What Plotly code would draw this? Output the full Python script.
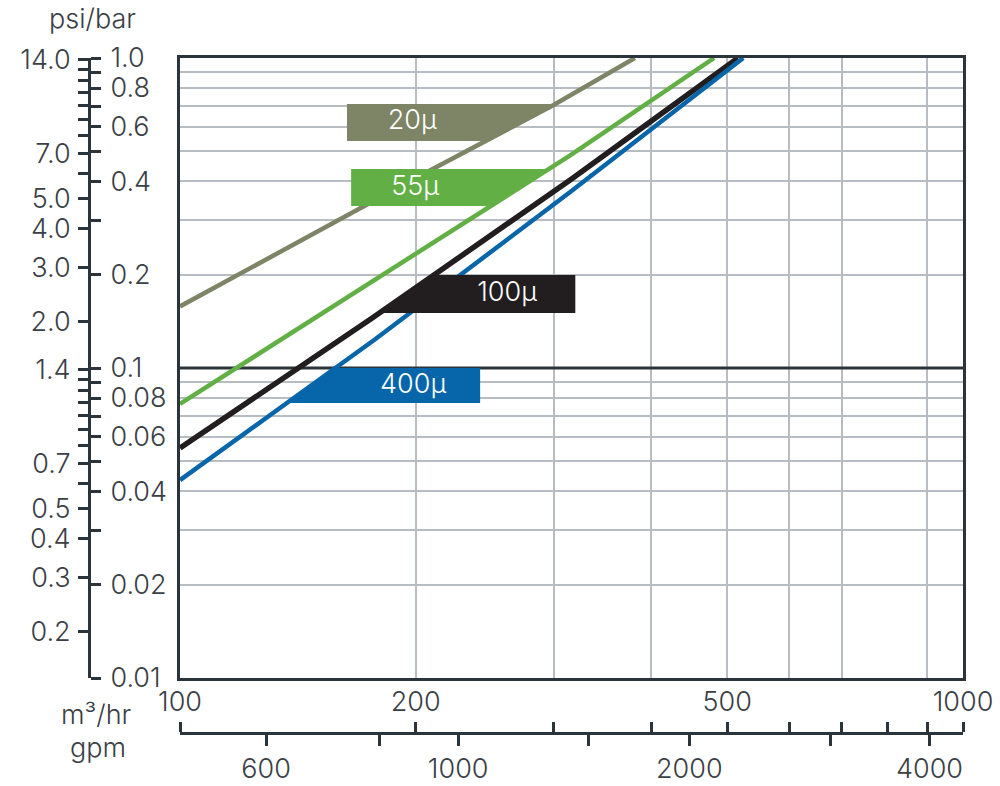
import numpy as np
import plotly.graph_objects as go

# ---------------- data ----------------
series_names = ["20μ", "55μ", "100μ", "400μ"]
series_colors = ["#7e8466", "#62b045", "#221e1f", "#0766a9"]
series_widths = [4.5, 4.5, 5.5, 4.5]

flow_20 = [100, 200, 300, 381]
bar_20 = [0.158, 0.41, 0.705, 1.0]
flow_55 = [100, 176, 315, 481]
bar_55 = [0.0766, 0.19, 0.485, 1.0]
flow_100 = [100, 176, 315, 516]
bar_100 = [0.0552, 0.145, 0.404, 1.0]
flow_400 = [100, 177, 315, 524]
bar_400 = [0.0435, 0.1231, 0.3695, 1.0]

# label boxes: (side of curve the box sits on, outer flow edge, bar bottom, bar top)
box_side = ["left", "left", "right", "right"]
box_edge_flow = [163.4, 165.4, 319.8, 241.7]
box_bar_bottom = [0.54, 0.333, 0.1504, 0.0771]
box_bar_top = [0.7105, 0.4385, 0.1995, 0.1]
label_flow = [198, 199.7, 261.7, 198.5]
label_bar = [0.622, 0.381, 0.1733, 0.0875]

# grid / ticks
grid_flow = [200, 300, 400, 500, 600, 700, 900]
grid_bar = [0.02, 0.03, 0.04, 0.05, 0.06, 0.07, 0.08, 0.09,
            0.2, 0.3, 0.4, 0.5, 0.6, 0.7, 0.8, 0.9]
ref_bar = 0.1
flow_range = [100, 1000]

m3_ticks = [100, 200, 300, 400, 500, 600, 700, 800, 900, 1000]
m3_labels = ["100", "200", "", "", "500", "", "", "", "", "1000"]

gpm_tick_m3hr = [128.8, 179.6, 226.6, 332.2, 447.2, 677, 906.2]
gpm_labels = ["600", "", "1000", "", "2000", "", "4000"]

bar_ticks = [1.0, 0.9, 0.8, 0.7, 0.6, 0.5, 0.4, 0.3, 0.2, 0.1,
             0.09, 0.08, 0.07, 0.06, 0.05, 0.04, 0.03, 0.02, 0.01]
bar_labels = ["1.0", "", "0.8", "", "0.6", "", "0.4", "", "0.2", "0.1",
              "", "0.08", "", "0.06", "", "0.04", "", "0.02", "0.01"]

psi_ticks = [14, 13, 12, 11, 10, 9, 8, 7, 6, 5, 4, 3, 2,
             1.4, 1.3, 1.2, 1.1, 1.0, 0.9, 0.8, 0.7, 0.6, 0.5, 0.4, 0.3, 0.2]
psi_labels = ["14.0", "", "", "", "", "", "", "7.0", "", "5.0", "4.0", "3.0", "2.0",
              "1.4", "", "", "", "", "", "", "0.7", "", "0.5", "0.4", "0.3", "0.2"]
PSI_PER_BAR = 14.2  # scale used by the chart's psi ruler

# ---------------- styling ----------------
FONT = "Inter"
TXT = "#3a4046"
AX = "#2c343b"
GRID = "#b7bdc2"
FS = 27
W, H = 1000, 786
px_left, px_right, px_top, px_bottom = 180, 963, 58, 678
dom_x = [px_left / W, px_right / W]
dom_y = [(H - px_bottom) / H, (H - px_top) / H]
yaxis_pos = 89 / W
xaxis_pos = (H - 733) / H

fig = go.Figure()

# dark reference line at 0.1 bar (drawn first, under the curves)
fig.add_trace(go.Scatter(x=flow_range, y=[ref_bar, ref_bar], mode="lines",
                         line=dict(color=AX, width=3), hoverinfo="skip",
                         showlegend=False))

curves = [(flow_20, bar_20), (flow_55, bar_55), (flow_100, bar_100), (flow_400, bar_400)]
for (fx, by), name, col, lw in zip(curves, series_names, series_colors, series_widths):
    fig.add_trace(go.Scatter(x=fx, y=by, mode="lines", name=name,
                             line=dict(color=col, width=lw), hoverinfo="skip",
                             showlegend=False))

# label boxes, one edge following the curve
for i, (fx, by) in enumerate(curves):
    lx = np.log10(fx)
    ly = np.log10(by)
    yb, yt = box_bar_bottom[i], box_bar_top[i]
    xcb = 10 ** np.interp(np.log10(yb), ly, lx)
    xct = 10 ** np.interp(np.log10(yt), ly, lx)
    xe = box_edge_flow[i]
    if box_side[i] == "left":
        px_ = [xe, xe, xct, xcb, xe]
    else:
        px_ = [xcb, xct, xe, xe, xcb]
    py_ = [yb, yt, yt, yb, yb]
    fig.add_trace(go.Scatter(x=px_, y=py_, mode="lines", fill="toself",
                             fillcolor=series_colors[i],
                             line=dict(color=series_colors[i], width=0),
                             hoverinfo="skip", showlegend=False))

fig.add_trace(go.Scatter(x=label_flow, y=label_bar, mode="text", text=series_names,
                         textfont=dict(family=FONT, size=FS, color="white", weight=300),
                         hoverinfo="skip", showlegend=False))

# invisible traces so the extra rulers exist
fig.add_trace(go.Scatter(x=flow_range, y=[0.01, 1], xaxis="x2", yaxis="y2",
                         mode="markers", marker=dict(opacity=0), hoverinfo="skip",
                         showlegend=False))
fig.add_trace(go.Scatter(x=flow_range, y=[0.01, 1], xaxis="x3", yaxis="y3",
                         mode="markers", marker=dict(opacity=0), hoverinfo="skip",
                         showlegend=False))

tickfont = dict(family=FONT, size=FS, color=TXT, weight=300)

fig.update_layout(
    width=W, height=H, margin=dict(l=0, r=0, t=0, b=0, autoexpand=False),
    paper_bgcolor="white", plot_bgcolor="white",
    font=dict(family=FONT, color=TXT),
    xaxis=dict(domain=dom_x, type="log", range=[2, 3], tickvals=grid_flow,
               showticklabels=False, ticks="", showgrid=True, gridcolor=GRID, gridwidth=2,
               showline=True, linecolor=AX, linewidth=3, mirror=True, zeroline=False,
               automargin=False),
    yaxis=dict(domain=dom_y, type="log", range=[-2, 0], tickvals=grid_bar,
               showticklabels=False, ticks="", showgrid=True, gridcolor=GRID, gridwidth=2,
               showline=True, linecolor=AX, linewidth=3, mirror=True, zeroline=False,
               automargin=False),
    xaxis2=dict(overlaying="x", anchor="free", position=xaxis_pos, side="top",
                type="log", range=[2, 3], tickvals=m3_ticks, ticktext=m3_labels,
                ticks="outside", ticklen=10, tickwidth=3, tickcolor=AX,
                showline=True, linecolor=AX, linewidth=3, showgrid=False,
                zeroline=False, tickfont=tickfont, automargin=False),
    xaxis3=dict(overlaying="x", anchor="free", position=xaxis_pos, side="bottom",
                type="log", range=[2, 3], tickvals=gpm_tick_m3hr, ticktext=gpm_labels,
                ticks="outside", ticklen=12, tickwidth=3, tickcolor=AX,
                showline=False, showgrid=False, zeroline=False, tickfont=tickfont,
                automargin=False),
    yaxis2=dict(overlaying="y", anchor="free", position=yaxis_pos, side="right",
                type="log", range=[-2, 0], tickvals=bar_ticks, ticktext=bar_labels,
                ticks="outside", ticklen=10, tickwidth=3, tickcolor=AX,
                showline=True, linecolor=AX, linewidth=3, showgrid=False,
                zeroline=False, tickfont=tickfont, ticklabelstandoff=4,
                automargin=False),
    yaxis3=dict(overlaying="y", anchor="free", position=yaxis_pos, side="left",
                type="log", range=[-2, 0],
                tickvals=[p / PSI_PER_BAR for p in psi_ticks], ticktext=psi_labels,
                ticks="outside", ticklen=11, tickwidth=3, tickcolor=AX,
                showline=False, showgrid=False, zeroline=False, tickfont=tickfont,
                ticklabelstandoff=2, automargin=False),
    annotations=[
        dict(text="psi/bar", xref="paper", yref="paper", x=92 / W, y=(H - 18) / H,
             showarrow=False, xanchor="center", yanchor="middle",
             font=dict(family=FONT, size=FS, color=TXT, weight=300)),
        dict(text="m³/hr", xref="paper", yref="paper", x=96 / W, y=(H - 714) / H,
             showarrow=False, xanchor="center", yanchor="middle",
             font=dict(family=FONT, size=FS, color=TXT, weight=300)),
        dict(text="gpm", xref="paper", yref="paper", x=98 / W, y=(H - 747) / H,
             showarrow=False, xanchor="center", yanchor="middle",
             font=dict(family=FONT, size=FS, color=TXT, weight=300)),
    ],
)

fig.write_html("out.html")
